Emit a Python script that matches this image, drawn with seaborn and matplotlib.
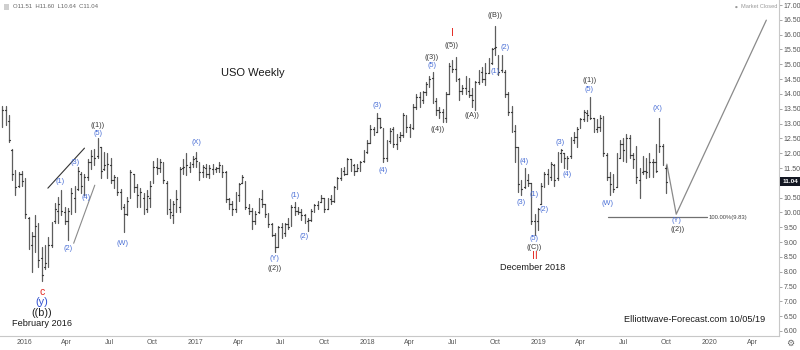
import matplotlib
matplotlib.use("Agg")
import matplotlib.pyplot as plt
import matplotlib.dates as mdates
import matplotlib.transforms as mtransforms
from matplotlib.patches import Rectangle
import pandas as pd
import seaborn as sns

# ---------------------------------------------------------------- data
first_week = "2015-11-16"

opens = [
    13.20, 13.45, 13.10, 12.10, 11.30, 10.90, 11.30, 11.05, 9.80, 8.90,
    9.20, 9.55, 8.45, 8.15, 8.30, 8.90, 9.70, 10.05, 10.30, 10.00,
    9.70, 10.10, 10.50, 10.80, 11.30, 10.90, 11.20, 11.70, 11.90, 11.90,
    12.20, 11.45, 11.60, 11.60, 11.10, 11.20, 10.70, 10.20, 9.95, 10.50,
    11.30, 10.85, 10.60, 10.50, 10.10, 10.50, 11.00, 11.55, 11.50, 11.65,
    11.00, 10.10, 9.90, 10.30, 10.20, 11.50, 11.60, 11.55, 11.65, 11.85,
    11.70, 11.35, 11.50, 11.30, 11.45, 11.45, 11.50, 11.60, 11.35, 10.45,
    10.30, 10.10, 10.60, 11.00, 11.05, 10.15, 10.05, 9.70, 10.00, 10.45,
    10.30, 9.95, 9.60, 9.25, 8.85, 9.50, 9.30, 9.60, 9.55, 10.20,
    10.05, 10.00, 9.90, 9.70, 9.75, 10.05, 10.25, 10.35, 10.50, 10.10,
    10.45, 10.40, 10.85, 11.15, 11.40, 11.30, 11.80, 11.60, 11.40, 11.50,
    11.75, 12.05, 12.35, 12.80, 12.70, 13.20, 12.85, 11.85, 12.40, 12.80,
    12.30, 12.55, 12.60, 13.30, 12.90, 12.85, 13.55, 13.90, 13.80, 14.05,
    14.35, 14.55, 13.75, 13.45, 13.40, 13.20, 14.00, 14.95, 14.85, 14.50,
    14.10, 14.20, 14.10, 13.95, 13.60, 14.40, 14.75, 14.50, 14.70, 15.05,
    15.55, 15.25, 14.80, 14.75, 14.00, 13.40, 12.75, 12.20, 10.90, 10.85,
    11.10, 11.00, 9.70, 9.70, 10.30, 10.90, 11.30, 11.20, 11.60, 11.15,
    12.00, 12.00, 11.85, 11.90, 12.45, 12.55, 12.85, 13.15, 13.35, 13.35,
    13.20, 12.80, 12.90, 13.20, 11.95, 11.20, 10.95, 10.85, 11.85, 12.30,
    11.80, 12.50, 11.95, 11.80, 11.10, 11.35, 11.40, 11.35, 11.70, 11.70,
    12.70, 12.25, 11.51,
]
highs = [
    13.60, 13.60, 13.28, 12.15, 11.43, 11.35, 11.40, 11.15, 9.85, 9.33,
    9.90, 9.64, 8.82, 8.89, 9.16, 9.67, 10.31, 10.51, 10.75, 10.18,
    10.14, 10.82, 10.90, 11.53, 11.36, 11.30, 11.80, 12.10, 12.15, 12.50,
    12.20, 12.03, 12.00, 11.83, 11.26, 11.20, 10.80, 10.30, 10.51, 11.43,
    11.30, 10.95, 10.82, 10.65, 10.75, 11.05, 11.75, 11.85, 11.80, 11.70,
    11.05, 10.45, 10.40, 10.75, 11.55, 11.80, 12.00, 11.70, 11.90, 12.05,
    11.70, 11.60, 11.65, 11.60, 11.65, 11.55, 11.70, 11.60, 11.40, 10.48,
    10.40, 10.70, 11.00, 11.28, 11.05, 10.30, 10.15, 10.05, 10.50, 10.75,
    10.30, 9.97, 9.65, 9.30, 9.55, 9.65, 9.65, 9.80, 10.25, 10.35,
    10.20, 10.10, 9.95, 9.80, 10.10, 10.30, 10.40, 10.60, 10.50, 10.50,
    10.60, 10.90, 11.20, 11.50, 11.55, 11.85, 11.80, 11.65, 11.65, 11.75,
    12.10, 12.45, 12.95, 12.90, 13.35, 13.20, 12.85, 12.45, 12.85, 12.90,
    12.65, 12.70, 13.35, 13.30, 13.00, 13.65, 14.00, 14.05, 14.10, 14.40,
    14.60, 14.75, 13.85, 13.55, 13.50, 14.05, 15.05, 15.15, 15.25, 14.55,
    14.30, 14.60, 14.55, 14.20, 14.45, 14.80, 14.90, 15.05, 15.20, 15.55,
    16.30, 15.30, 15.30, 14.80, 14.05, 13.60, 12.95, 12.20, 11.10, 11.50,
    11.30, 11.00, 9.95, 10.15, 11.00, 11.35, 11.45, 11.70, 11.65, 12.05,
    12.15, 12.00, 11.90, 12.55, 12.70, 12.90, 13.20, 13.45, 13.45, 13.90,
    13.20, 13.15, 13.30, 13.25, 12.00, 11.35, 11.30, 12.00, 12.45, 12.50,
    12.65, 12.60, 12.00, 12.25, 11.50, 11.90, 11.85, 12.00, 11.80, 12.30,
    13.18, 12.30, 11.60,
]
lows = [
    12.90, 12.95, 12.37, 11.10, 10.60, 10.85, 10.90, 9.80, 8.75, 7.98,
    8.65, 8.15, 7.70, 8.10, 8.15, 8.82, 9.64, 9.64, 9.90, 9.60,
    9.06, 9.95, 10.00, 10.75, 10.65, 10.60, 11.10, 11.45, 11.60, 11.85,
    11.16, 11.43, 11.16, 11.00, 10.82, 10.58, 10.10, 9.35, 9.90, 10.50,
    10.70, 10.20, 10.18, 9.95, 10.00, 10.20, 11.00, 11.30, 11.35, 11.00,
    9.95, 9.80, 9.65, 10.00, 10.00, 11.30, 11.25, 11.35, 11.55, 11.55,
    11.10, 11.20, 11.20, 11.15, 11.30, 11.35, 11.35, 11.20, 10.35, 10.10,
    9.90, 10.00, 10.40, 11.00, 10.10, 9.95, 9.45, 9.60, 9.98, 10.20,
    9.85, 9.50, 9.20, 8.66, 8.85, 9.15, 9.20, 9.45, 9.55, 9.90,
    9.95, 9.75, 9.65, 9.38, 9.70, 10.00, 10.10, 10.35, 10.00, 10.10,
    10.30, 10.35, 10.80, 11.10, 11.25, 11.30, 11.40, 11.25, 11.40, 11.40,
    11.70, 12.00, 12.35, 12.60, 12.70, 12.85, 11.70, 11.75, 12.35, 12.20,
    12.15, 12.40, 12.55, 12.70, 12.55, 12.80, 13.50, 13.55, 13.70, 13.95,
    14.25, 13.70, 13.30, 13.20, 13.05, 13.05, 14.00, 14.75, 14.45, 13.80,
    14.00, 14.00, 13.90, 13.55, 13.45, 14.35, 14.40, 14.30, 14.70, 15.00,
    15.30, 14.65, 14.75, 13.90, 13.30, 12.70, 11.70, 10.70, 10.58, 10.82,
    10.90, 9.60, 9.25, 9.40, 10.30, 10.85, 10.95, 11.10, 10.90, 11.10,
    11.70, 11.50, 11.45, 11.85, 12.35, 12.20, 12.85, 13.10, 13.10, 13.15,
    12.70, 12.70, 12.75, 11.90, 11.10, 10.60, 10.70, 10.85, 11.85, 11.75,
    11.70, 11.85, 11.50, 11.00, 10.50, 11.30, 11.15, 11.20, 11.20, 11.35,
    12.05, 11.60, 10.64,
]
closes = [
    13.45, 13.10, 12.45, 11.30, 10.85, 11.30, 11.05, 9.95, 8.90, 9.20,
    9.55, 8.40, 7.90, 8.30, 8.90, 9.55, 10.10, 10.30, 10.05, 9.70,
    10.05, 10.65, 10.75, 11.40, 10.90, 11.20, 11.70, 11.90, 11.85, 12.30,
    11.40, 11.60, 11.65, 11.10, 11.20, 10.70, 10.20, 9.95, 10.40, 11.35,
    10.85, 10.60, 10.70, 10.10, 10.55, 10.90, 11.55, 11.50, 11.70, 11.10,
    10.05, 10.00, 10.30, 10.45, 11.45, 11.55, 11.60, 11.65, 11.80, 11.75,
    11.35, 11.55, 11.30, 11.50, 11.55, 11.50, 11.60, 11.35, 10.45, 10.30,
    10.10, 10.60, 10.95, 11.20, 10.20, 10.05, 9.70, 9.95, 10.45, 10.30,
    9.95, 9.60, 9.25, 8.85, 9.50, 9.25, 9.60, 9.50, 10.20, 10.05,
    10.00, 9.90, 9.75, 9.75, 10.05, 10.25, 10.35, 10.50, 10.10, 10.45,
    10.40, 10.85, 11.15, 11.40, 11.30, 11.80, 11.60, 11.40, 11.50, 11.70,
    12.05, 12.35, 12.80, 12.70, 13.20, 12.90, 11.85, 12.35, 12.75, 12.30,
    12.60, 12.60, 13.30, 12.90, 12.80, 13.55, 13.90, 13.80, 14.05, 14.35,
    14.50, 13.80, 13.45, 13.40, 13.20, 14.00, 14.95, 14.85, 14.60, 14.10,
    14.20, 14.10, 13.95, 13.80, 14.40, 14.75, 14.50, 14.70, 15.05, 15.50,
    15.60, 14.75, 14.95, 14.00, 13.40, 12.75, 12.20, 10.95, 10.80, 11.05,
    11.00, 9.70, 9.75, 10.10, 10.90, 11.30, 11.20, 11.65, 11.10, 12.00,
    12.10, 11.85, 11.85, 12.45, 12.55, 12.80, 13.15, 13.40, 13.30, 13.20,
    12.80, 12.90, 13.20, 12.00, 11.20, 10.95, 10.80, 11.85, 12.30, 12.10,
    12.50, 11.95, 11.80, 11.20, 11.00, 11.40, 11.35, 11.70, 11.70, 11.40,
    12.25, 11.65, 11.04,
]

price_ticks = [6.0, 6.5, 7.0, 7.5, 8.0, 8.5, 9.0, 9.5, 10.0, 10.5, 11.0,
               11.5, 12.0, 12.5, 13.0, 13.5, 14.0, 14.5, 15.0, 15.5, 16.0,
               16.5, 17.0]
date_ticks = ["2016-01-01", "2016-04-01", "2016-07-01", "2016-10-01",
              "2017-01-01", "2017-04-01", "2017-07-01", "2017-10-01",
              "2018-01-01", "2018-04-01", "2018-07-01", "2018-10-01",
              "2019-01-01", "2019-04-01", "2019-07-01", "2019-10-01",
              "2020-01-01", "2020-04-01"]
date_tick_labels = ["2016", "Apr", "Jul", "Oct", "2017", "Apr", "Jul", "Oct",
                    "2018", "Apr", "Jul", "Oct", "2019", "Apr", "Jul", "Oct",
                    "2020", "Apr"]

last_close = 11.04
fib_level = 9.83
fib_span = ["2019-05-30", "2019-12-27"]
path_dates = ["2019-10-02", "2019-10-22", "2020-05-01"]
path_prices = [11.63, 9.94, 16.49]
rising_line_a = (["2016-02-21", "2016-05-09"], [10.82, 12.17])
rising_line_b = (["2016-04-16", "2016-05-31"], [8.96, 10.92])

# wave labels: text, date, price, style
wave_labels = [
    ("c", "2016-02-08", 7.30, "red"),
    ("(y)", "2016-02-08", 6.97, "blue_big"),
    ("((b))", "2016-02-08", 6.59, "black_big"),
    ("(1)", "2016-03-17", 11.05, "blue"),
    ("(2)", "2016-04-05", 8.79, "blue"),
    ("(3)", "2016-04-20", 11.70, "blue"),
    ("(4)", "2016-05-12", 10.51, "blue"),
    ("(5)", "2016-06-06", 12.68, "blue"),
    ("((1))", "2016-06-06", 12.95, "black"),
    ("(W)", "2016-07-30", 8.96, "blue"),
    ("(X)", "2017-01-03", 12.37, "blue"),
    ("(Y)", "2017-06-18", 8.45, "blue"),
    ("((2))", "2017-06-18", 8.11, "black"),
    ("(1)", "2017-07-31", 10.58, "blue"),
    ("(2)", "2017-08-21", 9.20, "blue"),
    ("(3)", "2018-01-22", 13.62, "blue"),
    ("(4)", "2018-02-04", 11.43, "blue"),
    ("((3))", "2018-05-19", 15.24, "black"),
    ("(5)", "2018-05-20", 14.97, "blue"),
    ("((4))", "2018-06-01", 12.81, "black"),
    ("I", "2018-07-02", 16.05, "red"),
    ("((5))", "2018-07-01", 15.62, "black"),
    ("((A))", "2018-08-13", 13.28, "black"),
    ("((B))", "2018-10-01", 16.66, "black"),
    ("(1)", "2018-10-01", 14.77, "blue"),
    ("(2)", "2018-10-22", 15.56, "blue"),
    ("(3)", "2018-11-25", 10.33, "blue"),
    ("(4)", "2018-12-02", 11.73, "blue"),
    ("(1)", "2018-12-23", 10.60, "blue"),
    ("(5)", "2018-12-23", 9.12, "blue"),
    ("((C))", "2018-12-23", 8.83, "black"),
    ("II", "2018-12-24", 8.52, "red"),
    ("(2)", "2019-01-13", 10.10, "blue"),
    ("(3)", "2019-02-16", 12.35, "blue"),
    ("(4)", "2019-03-04", 11.28, "blue"),
    ("((1))", "2019-04-21", 14.47, "black"),
    ("(5)", "2019-04-20", 14.16, "blue"),
    ("(W)", "2019-05-28", 10.30, "blue"),
    ("(X)", "2019-09-12", 13.51, "blue"),
    ("(Y)", "2019-10-23", 9.74, "blue"),
    ("((2))", "2019-10-24", 9.43, "black"),
]
captions = [
    ("USO Weekly", "2017-05-03", 14.70, 8.0),
    ("February 2016", "2016-02-08", 6.26, 6.6),
    ("December 2018", "2018-12-19", 8.15, 6.6),
    ("Elliottwave-Forecast.com 10/05/19", "2019-12-01", 6.39, 6.6),
]

# ---------------------------------------------------------------- style
sns.set_theme(style="white")
plt.rcParams["font.family"] = ["Liberation Sans", "DejaVu Sans"]

bar_color = "#5e5e5e"
axis_grey = "#c8c8c8"
text_grey = "#555555"
label_styles = {
    "blue": dict(color="#4a6fd6", fontsize=5.3),
    "black": dict(color="#3a3a3a", fontsize=5.3),
    "red": dict(color="#e3261f", fontsize=7.5),
    "blue_big": dict(color="#3050d0", fontsize=7.8),
    "black_big": dict(color="#222222", fontsize=7.8),
}

# ---------------------------------------------------------------- frames
dates = pd.date_range(first_week, periods=len(closes), freq="7D")
bars = pd.DataFrame({"date": dates, "open": opens, "high": highs,
                     "low": lows, "close": closes})
bars["bar"] = range(len(bars))
tick_len = pd.Timedelta(days=1.7)

ranges = pd.concat([
    bars[["bar", "date"]].assign(price=bars["low"]),
    bars[["bar", "date"]].assign(price=bars["high"]),
]).sort_values(["bar", "price"])
open_ticks = pd.concat([
    bars[["bar"]].assign(date=bars["date"] - tick_len, price=bars["open"]),
    bars[["bar"]].assign(date=bars["date"], price=bars["open"]),
])
close_ticks = pd.concat([
    bars[["bar"]].assign(date=bars["date"], price=bars["close"]),
    bars[["bar"]].assign(date=bars["date"] + tick_len, price=bars["close"]),
])

# ---------------------------------------------------------------- figure
fig = plt.figure(figsize=(8, 3.5), dpi=100)
ax = fig.add_axes([0, 14 / 350, 779 / 800, 336 / 350])

sns.lineplot(data=ranges, x="date", y="price", units="bar",
             estimator=None, sort=False, color=bar_color, lw=0.9,
             legend=False, ax=ax)
for frame in (open_ticks, close_ticks):
    sns.lineplot(data=frame, x="date", y="price", units="bar",
                 estimator=None, sort=False, color="#3a3a3a", lw=0.9,
                 legend=False, ax=ax)

line_kw = dict(estimator=None, sort=False, legend=False, ax=ax)
sns.lineplot(x=pd.to_datetime(rising_line_a[0]), y=rising_line_a[1],
             color="#333333", lw=0.8, **line_kw)
sns.lineplot(x=pd.to_datetime(rising_line_b[0]), y=rising_line_b[1],
             color="#8a8a8a", lw=0.8, **line_kw)
sns.lineplot(x=pd.to_datetime(path_dates), y=path_prices,
             color="#8a8a8a", lw=0.9, **line_kw)
sns.lineplot(x=pd.to_datetime(fib_span), y=[fib_level, fib_level],
             color="#707070", lw=0.9, **line_kw)
ax.text(pd.Timestamp(fib_span[1]) + pd.Timedelta(days=2), fib_level,
        f"100.00%({fib_level:.2f})", fontsize=4.2, color="#444444",
        ha="left", va="center")

for text, day, price, style in wave_labels:
    ax.text(pd.Timestamp(day), price, text, ha="center", va="center",
            **label_styles[style])
for text, day, price, size in captions:
    ax.text(pd.Timestamp(day), price, text, ha="center", va="center",
            fontsize=size, color="#1a1a1a")

# ---------------------------------------------------------------- axes
ax.set_xlim(pd.Timestamp("2015-11-11"), pd.Timestamp("2020-05-28"))
ax.set_ylim(5.83, 17.17)
ax.set_xlabel("")
ax.set_ylabel("")

ax.set_xticks(mdates.date2num(pd.to_datetime(date_ticks)))
ax.set_xticklabels(date_tick_labels)
ax.yaxis.tick_right()
ax.set_yticks(price_ticks)
ax.set_yticklabels(["" if p == 11.0 else f"{p:.2f}" for p in price_ticks])

ax.tick_params(axis="x", direction="in", length=3, width=0.6,
               color="#999999", labelsize=5, labelcolor=text_grey, pad=2.5)
ax.tick_params(axis="y", direction="out", length=2, width=0.6,
               color="#999999", labelsize=5, labelcolor=text_grey, pad=1.5,
               right=True, left=False)
for side in ("top", "left"):
    ax.spines[side].set_visible(False)
for side in ("right", "bottom"):
    ax.spines[side].set_color(axis_grey)
    ax.spines[side].set_linewidth(0.8)
ax.grid(False)

# last price tag on the price scale
tag_tf = mtransforms.blended_transform_factory(ax.transAxes, ax.transData)
ax.text(1.004, last_close, f"{last_close:.2f}", transform=tag_tf,
        ha="left", va="center", fontsize=4.6, fontweight="bold",
        color="white", clip_on=False,
        bbox=dict(boxstyle="square,pad=0.35", fc="#131722", ec="none"))

# header strip
fig.patches.append(Rectangle((4 / 800, 1 - 10 / 350), 5 / 800, 6 / 350,
                             transform=fig.transFigure, fc="#cfcfcf",
                             ec="none"))
fig.text(13 / 800, 1 - 7 / 350, "O11.51  H11.60  L10.64  C11.04",
         fontsize=4.3, color="#666666", va="center", ha="left")
fig.text(736 / 800, 1 - 7 / 350, "\u25CF", fontsize=2.3, color="#999999",
         va="center", ha="center", family="DejaVu Sans")
fig.text(777 / 800, 1 - 7 / 350, "Market Closed", fontsize=4.1,
         color="#999999", va="center", ha="right")
fig.text(790 / 800, 1 - 343 / 350, "\u2699", fontsize=6.5, color="#666666",
         va="center", ha="center", family="DejaVu Sans")

fig.savefig("out.png", dpi=100, facecolor="white")
